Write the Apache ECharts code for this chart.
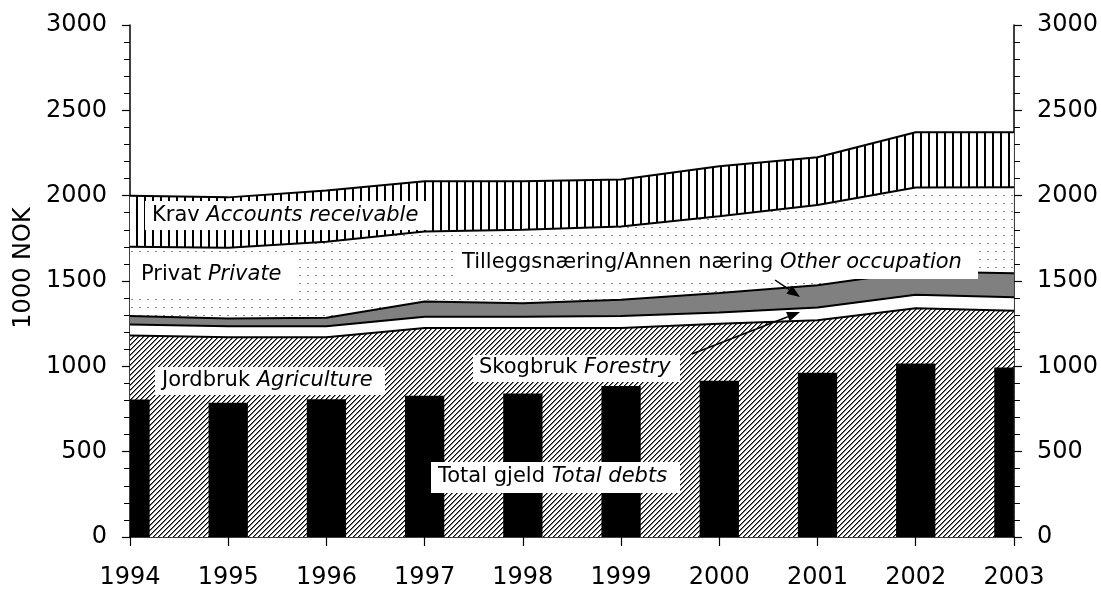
<!DOCTYPE html>
<html>
<head>
<meta charset="utf-8">
<script src="https://cdn.jsdelivr.net/npm/echarts@6/dist/echarts.min.js"></script>
<style>
  html, body { margin: 0; padding: 0; background: #fff; overflow: hidden; }
  #chart { width: 1101px; height: 591px; }
</style>
</head>
<body>
<div id="chart"></div>
<script>
// years on the x axis
const years = ['1994', '1995', '1996', '1997', '1998', '1999', '2000', '2001', '2002', '2003']

// stacked layers (1000 NOK), bottom to top
const jordbruk = [1180, 1170, 1170, 1225, 1225, 1225, 1250, 1270, 1340, 1325]
const skogbruk = [65, 65, 65, 65, 65, 70, 65, 75, 80, 80]
const tillegg = [50, 45, 50, 90, 80, 95, 115, 130, 135, 140]
const privat = [405, 415, 445, 410, 430, 430, 450, 470, 493, 505]
const krav = [300, 295, 300, 295, 285, 275, 292, 280, 324, 322]

// bars
const totalGjeld = [805, 786, 807, 827, 841, 885, 915, 962, 1017, 993]

const FONT = 'DejaVu Sans'

// small canvas tiles used as fill patterns
function makePattern(size, draw) {
  const c = document.createElement('canvas')
  c.width = size
  c.height = size
  const ctx = c.getContext('2d')
  ctx.fillStyle = '#fff'
  ctx.fillRect(0, 0, size, size)
  draw(ctx, size)
  return { image: c, repeat: 'repeat' }
}

const diagPattern = makePattern(5, (ctx, n) => {
  for (let i = 0; i < n; i++) {
    ctx.fillStyle = '#000'
    ctx.fillRect(i, n - 1 - i, 1, 1)
    ctx.fillStyle = '#777'
    ctx.fillRect(i, (n - i) % n, 1, 1)
  }
})
const dotPattern = makePattern(8, (ctx) => {
  ctx.fillStyle = '#8a8a8a'
  ctx.fillRect(3, 3, 2, 1)
})
const vertPattern = makePattern(8, (ctx) => {
  ctx.fillStyle = '#000'
  ctx.fillRect(0, 0, 2, 8)
})

function areaSeries(name, data, fill) {
  return {
    name: name,
    type: 'line',
    stack: 'total',
    data: data,
    showSymbol: false,
    symbol: 'none',
    lineStyle: { color: '#000', width: 2 },
    areaStyle: { color: fill, opacity: 1 }
  }
}

// label box with white background + rich text
function label(box, tx, ty, a, b) {
  return [
    {
      type: 'rect',
      z: 100,
      shape: { x: box[0], y: box[1], width: box[2], height: box[3] },
      style: { fill: '#fff' }
    },
    {
      type: 'text',
      z: 101,
      x: tx,
      y: ty,
      style: {
        text: '{a|' + a + '}  {b|' + b + '}',
        verticalAlign: 'middle',
        align: 'left',
        rich: {
          a: { fontFamily: FONT, fontSize: 21, fill: '#000', color: '#000' },
          b: { fontFamily: FONT, fontSize: 21, fontStyle: 'italic', fill: '#000', color: '#000' }
        }
      }
    }
  ]
}

// line with a filled arrow head at the end
function arrow(x1, y1, x2, y2) {
  const ang = Math.atan2(y2 - y1, x2 - x1)
  const len = 13, half = 5
  const bx = x2 - len * Math.cos(ang), by = y2 - len * Math.sin(ang)
  const px = -Math.sin(ang) * half, py = Math.cos(ang) * half
  return [
    {
      type: 'line',
      z: 102,
      shape: { x1: x1, y1: y1, x2: bx, y2: by },
      style: { stroke: '#000', lineWidth: 1.5 }
    },
    {
      type: 'polygon',
      z: 102,
      shape: { points: [[x2, y2], [bx + px, by + py], [bx - px, by - py]] },
      style: { fill: '#000' }
    }
  ]
}

function yAxisCfg(pos) {
  return {
    type: 'value',
    position: pos,
    min: 0,
    max: 3000,
    interval: 500,
    axisLine: { show: true, lineStyle: { color: '#000', width: 1.5 } },
    axisTick: { show: true, length: 8, lineStyle: { color: '#000', width: 1.2 } },
    minorTick: { show: true, splitNumber: 5, length: 6, lineStyle: { color: '#000', width: 1 } },
    splitLine: { show: false },
    minorSplitLine: { show: false },
    axisLabel: {
      fontFamily: FONT, fontSize: 24, color: '#000', margin: 23,
      formatter: v => String(v)
    }
  }
}

const chart = echarts.init(document.getElementById('chart'), null, { renderer: 'canvas', width: 1101, height: 591 })

const option = {
  backgroundColor: '#fff',
  animation: false,
  grid: { left: 130, right: 86, top: 25, bottom: 54, containLabel: false },
  xAxis: {
    type: 'category',
    data: years,
    boundaryGap: false,
    axisLine: { lineStyle: { color: '#000', width: 1.5 } },
    axisTick: { show: true, length: 9, interval: 0, lineStyle: { color: '#000', width: 1.2 } },
    axisLabel: { fontFamily: FONT, fontSize: 24, color: '#000', margin: 29, interval: 0 }
  },
  yAxis: [yAxisCfg('left'), yAxisCfg('right')],
  series: [
    areaSeries('Jordbruk', jordbruk, diagPattern),
    areaSeries('Skogbruk', skogbruk, '#fff'),
    areaSeries('Tilleggsnæring', tillegg, '#808080'),
    areaSeries('Privat', privat, dotPattern),
    areaSeries('Krav', krav, vertPattern),
    {
      // bars centred on the ticks, clipped to the plot area
      name: 'Total gjeld',
      type: 'custom',
      z: 5,
      data: totalGjeld.map((v, i) => [i, v]),
      encode: { x: 0, y: 1 },
      renderItem(params, api) {
        const top = api.coord([api.value(0), api.value(1)])
        const base = api.coord([api.value(0), 0])
        const w = api.size([1, 0])[0] * 0.4
        const cs = params.coordSys
        const rect = echarts.graphic.clipRectByRect(
          { x: top[0] - w / 2, y: top[1], width: w, height: base[1] - top[1] },
          { x: cs.x, y: cs.y, width: cs.width, height: cs.height }
        )
        return rect && { type: 'rect', shape: rect, style: { fill: '#000' } }
      }
    }
  ],
  graphic: [
    {
      type: 'text',
      x: 24,
      y: 268,
      rotation: Math.PI / 2,
      style: {
        text: '1000 NOK',
        fontFamily: FONT,
        fontSize: 24,
        fill: '#000',
        align: 'center',
        verticalAlign: 'middle'
      }
    },
    ...label([145, 201, 287, 29], 152, 216, 'Krav', 'Accounts receivable'),
    ...label([130, 259, 165, 37], 141, 275, 'Privat', 'Private'),
    ...label([453, 247, 525, 32], 462, 263, 'Tilleggsnæring/Annen næring', 'Other occupation'),
    ...label([155, 367, 230, 28], 162, 381, 'Jordbruk', 'Agriculture'),
    ...label([473, 355, 207, 27], 479, 368, 'Skogbruk', 'Forestry'),
    ...label([431, 462, 249, 31], 438, 477, 'Total gjeld', 'Total debts'),
    ...arrow(775, 280, 800, 297),
    ...arrow(692, 354, 800, 312)
  ]
}

chart.setOption(option)
</script>
</body>
</html>
